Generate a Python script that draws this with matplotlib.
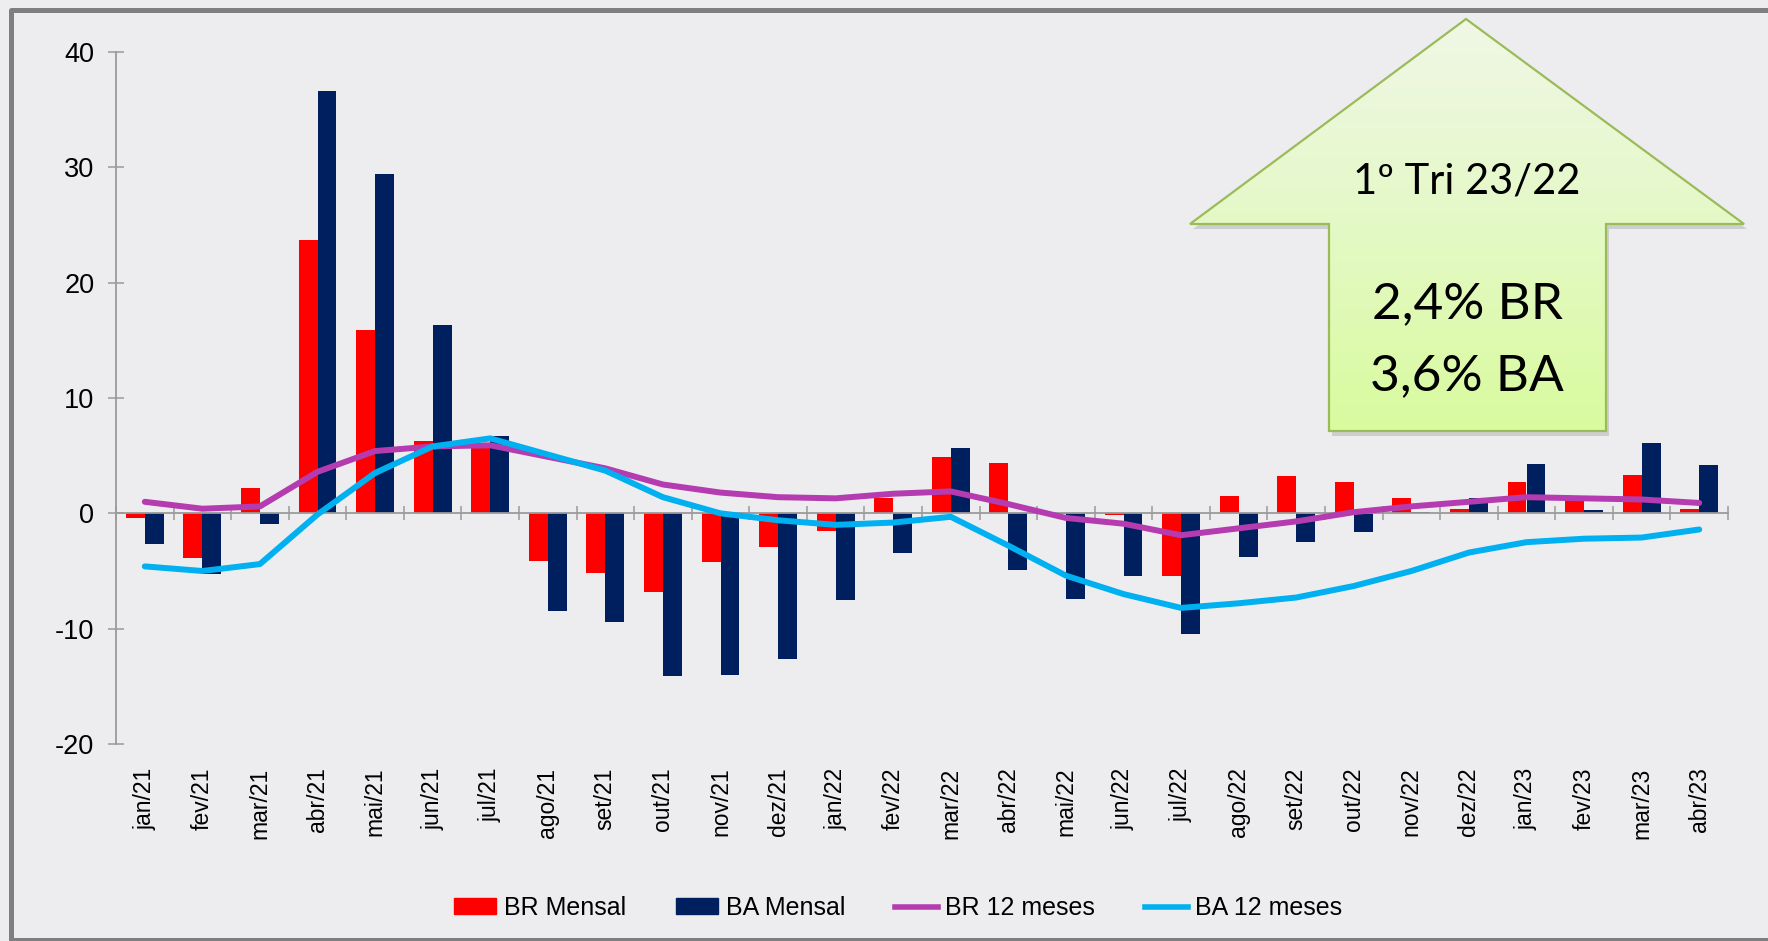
import numpy as np
import matplotlib
matplotlib.use("Agg")
import matplotlib.pyplot as plt
from matplotlib.patches import Polygon, Patch
from matplotlib.lines import Line2D
from matplotlib.colors import LinearSegmentedColormap

# ---------------------------------------------------------------------------
# data
months = ["jan/21", "fev/21", "mar/21", "abr/21", "mai/21", "jun/21", "jul/21",
          "ago/21", "set/21", "out/21", "nov/21", "dez/21", "jan/22", "fev/22",
          "mar/22", "abr/22", "mai/22", "jun/22", "jul/22", "ago/22", "set/22",
          "out/22", "nov/22", "dez/22", "jan/23", "fev/23", "mar/23", "abr/23"]
br_mensal = [-0.4, -3.9, 2.2, 23.7, 15.9, 6.3, 5.9, -4.1, -5.2, -6.8, -4.2, -2.9,
             -1.5, 1.3, 4.9, 4.4, -0.1, -0.15, -5.4, 1.5, 3.2, 2.7, 1.3, 0.4,
             2.7, 1.2, 3.3, 0.4]
ba_mensal = [-2.7, -5.3, -0.9, 36.6, 29.4, 16.3, 6.7, -8.5, -9.4, -14.1, -14.0, -12.6,
             -7.5, -3.4, 5.7, -4.9, -7.4, -5.4, -10.5, -3.8, -2.5, -1.6, 0.1, 1.3,
             4.3, 0.3, 6.1, 4.2]
br_12m = [1.0, 0.4, 0.6, 3.6, 5.4, 5.8, 5.9, 4.9, 3.9, 2.5, 1.8, 1.4, 1.3, 1.7,
          1.9, 0.8, -0.4, -0.9, -1.9, -1.3, -0.7, 0.1, 0.6, 1.0, 1.4, 1.3, 1.2, 0.9]
ba_12m = [-4.6, -5.0, -4.4, -0.1, 3.5, 5.8, 6.5, 5.1, 3.7, 1.4, 0.0, -0.6, -1.0, -0.8,
          -0.3, -2.8, -5.4, -7.0, -8.2, -7.8, -7.3, -6.3, -5.0, -3.4, -2.5, -2.2, -2.1, -1.4]
series_names = ["BR Mensal", "BA Mensal", "BR 12 meses", "BA 12 meses"]
box_title = "1º Tri 23/22"
box_lines = ["2,4% BR", "3,6% BA"]

RED, NAVY, PURPLE, CYAN = "#ff0000", "#001f5f", "#b43cb0", "#00b0f0"
GRAY = "#9a9a9a"

plt.rcParams["font.family"] = ["Liberation Sans", "DejaVu Sans"]
plt.rcParams["axes.unicode_minus"] = False

W, H = 1768, 941
fig = plt.figure(figsize=(W / 100, H / 100), dpi=100, facecolor="#ededef")

# ---------------------------------------------------------------------------
# main chart
ax = fig.add_axes([116 / W, 1 - 744 / H, (1728 - 116) / W, (744 - 52) / H], zorder=2)
ax.patch.set_alpha(0)

x = np.arange(len(months))
bw = 0.33
ax.bar(x - bw / 2, br_mensal, bw, color=RED, zorder=2)
ax.bar(x + bw / 2, ba_mensal, bw, color=NAVY, zorder=2)
ax.plot(x, br_12m, color=PURPLE, lw=4.3, zorder=3,
        solid_capstyle="round", solid_joinstyle="round")
ax.plot(x, ba_12m, color=CYAN, lw=4.3, zorder=4,
        solid_capstyle="round", solid_joinstyle="round")

ax.set_xlim(-0.5, len(months) - 0.5)
ax.set_ylim(-20, 40)
ax.set_yticks(range(-20, 41, 10))
for s in ["top", "right"]:
    ax.spines[s].set_visible(False)
ax.spines["bottom"].set_position(("data", 0))
ax.spines["bottom"].set_color(GRAY)
ax.spines["left"].set_color(GRAY)
ax.spines["bottom"].set_linewidth(1.3)
ax.spines["left"].set_linewidth(1.3)

# category boundary ticks sit on the zero line
ax.set_xticks(np.arange(-0.5, len(months), 1.0))
ax.tick_params(axis="x", direction="inout", length=10, width=1.1, color=GRAY,
               labelbottom=False)
ax.tick_params(axis="y", direction="inout", length=12, width=1.1, color=GRAY,
               labelsize=19.5, pad=9.5)

# month labels at the bottom of the plot area
sec = ax.secondary_xaxis("bottom")
sec.set_xticks(x, labels=months)
sec.tick_params(length=0, pad=17, labelsize=16.5, labelrotation=90)
sec.spines["bottom"].set_visible(False)

handles = [Patch(color=RED), Patch(color=NAVY),
           Line2D([], [], color=PURPLE, lw=4), Line2D([], [], color=CYAN, lw=4)]
fig.legend(handles, series_names, loc="center", bbox_to_anchor=(898 / W, 1 - 908 / H),
           ncol=4, frameon=False, fontsize=18, handlelength=1.7, handleheight=0.6,
           handletextpad=0.3, columnspacing=2.0)

# ---------------------------------------------------------------------------
# overlay in pixel coordinates: slide frame and the green arrow
ov = fig.add_axes([0, 0, 1, 1], zorder=5)
ov.patch.set_alpha(0)
ov.axis("off")

ov.plot([W + 20, 11, 11, W + 20], [9.5, 9.5, 940, 940], color="#7f7f7f", lw=3.6,
        solid_joinstyle="round")

arrow_pts = [(1466, 19), (1744, 224), (1606, 224), (1606, 431),
             (1329, 431), (1329, 224), (1190, 224)]
shadow = Polygon([(px + 3, py + 5) for px, py in arrow_pts], closed=True,
                 fc="black", ec="none", alpha=0.13)
ov.add_patch(shadow)
body = Polygon(arrow_pts, closed=True, fc="none", ec="none")
ov.add_patch(body)
green = LinearSegmentedColormap.from_list("g", ["#f0f7e6", "#e4f9c6", "#d9fb9e"])
grad = np.linspace(0, 1, 256).reshape(-1, 1)
im = ov.imshow(grad, extent=(1190, 1744, 431, 19), cmap=green, aspect="auto",
               origin="upper", zorder=2)
im.set_clip_path(body)
ov.add_patch(Polygon(arrow_pts, closed=True, fill=False, ec="#9bbb59", lw=1.6, zorder=3))

ov.text(1467, 193, box_title, fontsize=30, family=["Lato", "DejaVu Sans"],
        ha="center", va="baseline", zorder=4)
ov.text(1467, 318, box_lines[0], fontsize=37, family=["Lato", "DejaVu Sans"],
        ha="center", va="baseline", zorder=4)
ov.text(1467, 390, box_lines[1], fontsize=37, family=["Lato", "DejaVu Sans"],
        ha="center", va="baseline", zorder=4)

ov.set_xlim(0, W)
ov.set_ylim(H, 0)

fig.savefig("out.png", dpi=100, facecolor=fig.get_facecolor())
